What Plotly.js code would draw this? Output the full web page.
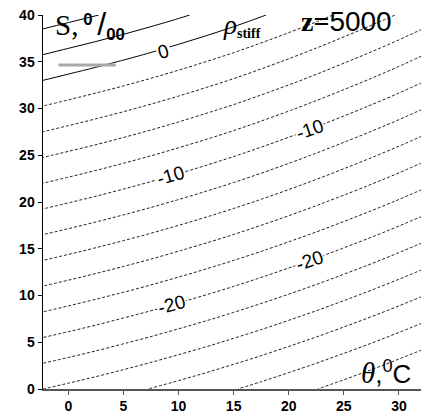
<!DOCTYPE html>
<html>
<head>
<meta charset="utf-8">
<script src="https://cdn.plot.ly/plotly-3.0.1.min.js"></script>
<style>html,body{margin:0;padding:0;background:#fff}#chart{width:425px;height:417px}</style>
</head>
<body>
<div id="chart"></div>
<script>
// potential temperature (deg C) grid columns
const theta = [-2.5, 0, 2.5, 5, 7.5, 10, 12.5, 15, 17.5, 20, 22.5, 25, 27.5, 30, 32.5];
// salinity (per mille) grid rows
const salinity = [0, 5, 10, 15, 20, 25, 30, 35, 40];
// stiffened density anomaly, one row per salinity
const rhoS0  = [-23.96, -24.45, -24.96, -25.50, -26.06, -26.65, -27.26, -27.90, -28.56, -29.25, -29.96, -30.70, -31.46, -32.25, -33.06];
const rhoS5  = [-20.33, -20.82, -21.33, -21.88, -22.44, -23.04, -23.65, -24.30, -24.97, -25.68, -26.40, -27.16, -27.93, -28.74, -29.57];
const rhoS10 = [-16.69, -17.19, -17.71, -18.25, -18.82, -19.42, -20.05, -20.70, -21.39, -22.10, -22.84, -23.61, -24.40, -25.22, -26.07];
const rhoS15 = [-13.06, -13.56, -14.08, -14.63, -15.20, -15.81, -16.44, -17.10, -17.80, -18.53, -19.28, -20.07, -20.87, -21.71, -22.58];
const rhoS20 = [-9.42, -9.93, -10.45, -11.00, -11.58, -12.19, -12.83, -13.50, -14.21, -14.95, -15.72, -16.52, -17.34, -18.19, -19.08];
const rhoS25 = [-5.79, -6.30, -6.82, -7.38, -7.96, -8.58, -9.22, -9.90, -10.62, -11.38, -12.16, -12.98, -13.81, -14.68, -15.59];
const rhoS30 = [-2.15, -2.67, -3.20, -3.75, -4.34, -4.96, -5.62, -6.30, -7.04, -7.80, -8.60, -9.43, -10.28, -11.16, -12.09];
const rhoS35 = [1.49, 0.96, 0.43, -0.13, -0.72, -1.35, -2.01, -2.70, -3.45, -4.23, -5.04, -5.89, -6.75, -7.65, -8.60];
const rhoS40 = [5.12, 4.59, 4.06, 3.50, 2.90, 2.27, 1.60, 0.90, 0.14, -0.65, -1.48, -2.34, -3.22, -4.13, -5.10];
const rhoGrid = [rhoS0, rhoS5, rhoS10, rhoS15, rhoS20, rhoS25, rhoS30, rhoS35, rhoS40];

// contour level groups: [start, end, step]
const dashedLevels = [-30, -2, 2];
const solidLevels = [0, 4, 2];

// contour labels: text and where they sit on their lines (theta, S)
const labelText = ['0', '-10', '-10', '-20', '-20'];
const labelTheta = [8.6, 9.3, 21.9, 9.4, 21.9];
const labelS = [36.1, 22.8, 27.8, 9.0, 13.7];

const xTicks = [0, 5, 10, 15, 20, 25, 30];
const yTicks = [0, 5, 10, 15, 20, 25, 30, 35, 40];

// small grey mark seen near S = 34.6
const markTheta = [-0.9, 4.3];
const markS = [34.65, 34.65];

function contourTrace(lv, dash, color) {
  return {
    type: 'contour', x: theta, y: salinity, z: rhoGrid,
    autocontour: false, showscale: false, hoverinfo: 'skip',
    contours: {coloring: 'none', start: lv[0], end: lv[1], size: lv[2], showlabels: false},
    line: {color: color, width: 1, dash: dash, smoothing: 1}
  };
}
const data = [
  contourTrace(dashedLevels, '3px,2px', '#222'),
  contourTrace(solidLevels, 'solid', '#000'),
  {type: 'scatter', mode: 'lines', x: markTheta, y: markS, hoverinfo: 'skip',
   line: {color: '#a8a8a8', width: 3}}
];

const labelAngles = [-16, -16, -19, -15, -19];
const labelAnns = labelText.map((t, i) => ({
  xref: 'x', yref: 'y', x: labelTheta[i], y: labelS[i], text: t, showarrow: false,
  textangle: labelAngles[i], bgcolor: '#fff', borderpad: 1,
  font: {family: 'Liberation Sans, Arial, sans-serif', size: 19, color: '#000'}
}));

const tickFont = {family: 'Liberation Sans, Arial, sans-serif', size: 14, weight: 'bold', color: '#000'};
const layout = {
  width: 425, height: 417,
  margin: {l: 43, r: 4, t: 15, b: 28},
  paper_bgcolor: '#fff', plot_bgcolor: '#fff', showlegend: false,
  xaxis: {range: [-2.3, 32.0], tickvals: xTicks, ticks: 'outside', ticklen: 4, tickwidth: 1,
    tickcolor: '#555', showline: true, linecolor: '#555', linewidth: 1.5,
    showgrid: false, zeroline: false, tickfont: tickFont},
  yaxis: {range: [0, 40], tickvals: yTicks, ticks: 'outside', ticklen: 4, tickwidth: 1,
    tickcolor: '#000', showline: true, linecolor: '#000', linewidth: 1.5,
    showgrid: false, zeroline: false, tickfont: tickFont},
  annotations: labelAnns.concat([
    {xref: 'paper', yref: 'paper', x: 0.026, y: 0.972, xanchor: 'left', yanchor: 'middle', showarrow: false,
     font: {family: 'Liberation Sans, Arial, sans-serif', size: 24, color: '#000'},
     text: '<span style="font-family:Liberation Serif;font-size:29px">S,</span>\u2009<sup><b>0</b></sup>\u2009<span style="font-size:32px">/</span><sub><b>00</b></sub>'},
    {xref: 'paper', yref: 'paper', x: 0.472, y: 0.972, xanchor: 'left', yanchor: 'middle', showarrow: false,
     font: {family: 'Liberation Serif, serif', size: 20, color: '#000'},
     text: '<span style="font-size:27px"><i>ρ</i></span><sub><b>stiff</b></sub>'},
    {xref: 'paper', yref: 'paper', x: 0.676, y: 0.982, xanchor: 'left', yanchor: 'middle', showarrow: false,
     font: {family: 'Liberation Sans, Arial, sans-serif', size: 28, color: '#000'},
     text: '<span style="font-family:Liberation Serif"><b>z=</b></span>5000'},
    {xref: 'paper', yref: 'paper', x: 0.98, y: 0.045, xanchor: 'right', yanchor: 'middle', showarrow: false,
     font: {family: 'Liberation Sans, Arial, sans-serif', size: 26, color: '#000'},
     text: '<span style="font-family:Liberation Serif;font-size:29px"><i>θ</i></span>,<sup>0</sup>C'}
  ])
};
Plotly.newPlot('chart', data, layout, {displayModeBar: false, staticPlot: true});
</script>
</body>
</html>
